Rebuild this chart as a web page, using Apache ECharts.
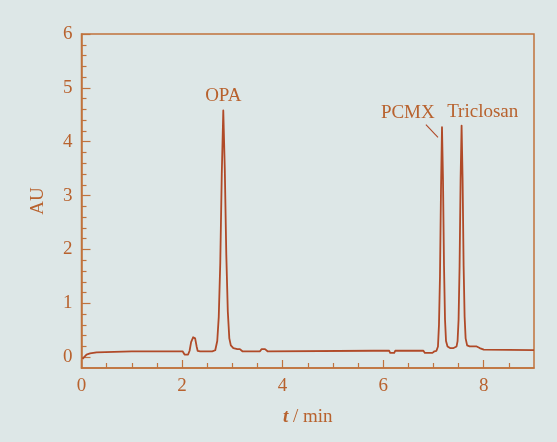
<!DOCTYPE html>
<html><head><meta charset="utf-8">
<script src="https://cdn.jsdelivr.net/npm/echarts@6/dist/echarts.min.js"></script>
<style>html,body{margin:0;padding:0;background:#dde7e7}#c{width:557px;height:442px}</style>
</head><body><div id="c"></div>
<script>
// chromatogram points [t (min), AU]
const trace = [
  [0.02,-0.03],[0.10,0.05],[0.17,0.07],[0.30,0.09],[0.33,0.11],[1.00,0.11],[2.01,0.11],
  [2.05,0.05],[2.08,0.02],[2.12,0.05],[2.15,0.12],[2.18,0.28],[2.22,0.37],[2.26,0.35],
  [2.29,0.20],[2.31,0.12],[2.36,0.11],[2.60,0.11],[2.66,0.13],[2.70,0.30],[2.73,0.75],
  [2.76,1.75],[2.79,3.40],[2.82,4.58],[2.85,3.50],[2.88,1.90],[2.91,0.85],[2.94,0.35],
  [2.97,0.22],[3.02,0.17],[3.10,0.15],[3.15,0.15],[3.20,0.11],[3.55,0.11],[3.58,0.15],
  [3.65,0.15],[3.70,0.11],[5.80,0.12],[5.82,0.10],[5.84,0.12],[6.12,0.12],[6.14,0.08],
  [6.22,0.08],[6.24,0.12],[6.80,0.12],[6.83,0.08],[6.98,0.08],[7.02,0.11],[7.06,0.12],
  [7.09,0.20],[7.11,0.60],[7.13,1.50],[7.15,3.10],[7.17,4.27],[7.19,3.30],[7.21,1.70],
  [7.23,0.70],[7.25,0.30],[7.28,0.20],[7.33,0.17],[7.40,0.17],[7.46,0.20],[7.48,0.30],
  [7.50,0.70],[7.52,1.70],[7.54,3.30],[7.56,4.30],[7.58,3.30],[7.60,1.70],[7.62,0.75],
  [7.64,0.35],[7.67,0.22],[7.72,0.20],[7.86,0.20],[7.92,0.17],[8.00,0.14],[9.00,0.13]
];
const peakLabels = [
  {name:'OPA', t:2.82, au:4.84},
  {name:'PCMX', t:6.49, au:4.53},
  {name:'Triclosan', t:7.98, au:4.56}
];
const arrowFrom = [6.85, 4.32];
const arrowTo = [7.09, 4.08];
const xMajorTicks = [0, 2, 4, 6, 8];
const xMinorTicks = [0.5, 1, 1.5, 2.5, 3, 3.5, 4.5, 5, 5.5, 6.5, 7, 7.5, 8.5];
const yMajorTicks = [0, 1, 2, 3, 4, 5, 6];
const yMinorTicks = [0.2,0.4,0.6,0.8,1.2,1.4,1.6,1.8,2.2,2.4,2.6,2.8,3.2,3.4,3.6,3.8,4.2,4.4,4.6,4.8,5.2,5.4,5.6,5.8];
const xTitle = 't / min';
const yTitle = 'AU';

const axisCol = '#c0733d';
const textCol = '#b8622e';
const lineCol = '#b04a28';
const font = 'Liberation Serif';
const fs = 19;

const chart = echarts.init(document.getElementById('c'));
chart.setOption({
  animation: false,
  backgroundColor: '#dde7e7',
  textStyle: {fontFamily: font},
  grid: {left: 81.5, right: 23, top: 34, bottom: 74, show: true, borderColor: axisCol, borderWidth: 1.5, backgroundColor: 'transparent'},
  xAxis: [
    {type: 'value', min: 0, max: 9, position: 'bottom',
     name: '{i|t} / min', nameLocation: 'middle', nameGap: 40,
     nameTextStyle: {color: textCol, fontSize: fs, fontFamily: font, rich: {i: {fontStyle: 'italic', fontWeight: 'bold', fontSize: fs, color: textCol, fontFamily: font}}},
     axisLine: {show: true, onZero: false, lineStyle: {color: axisCol, width: 1.5}},
     axisTick: {show: true, inside: true, length: 8, customValues: xMajorTicks, lineStyle: {color: axisCol, width: 1.2}},
     axisLabel: {show: true, customValues: xMajorTicks, color: textCol, fontSize: fs, fontFamily: font, margin: 9},
     splitLine: {show: false}},
    {type: 'value', min: 0, max: 9, position: 'bottom', offset: 0,
     axisLine: {show: false, onZero: false},
     axisTick: {show: true, inside: true, length: 5, customValues: xMinorTicks, lineStyle: {color: axisCol, width: 1.2}},
     axisLabel: {show: false}, splitLine: {show: false}}
  ],
  yAxis: [
    {type: 'value', min: -0.2, max: 6, position: 'left',
     name: yTitle, nameLocation: 'middle', nameGap: 34, nameRotate: 90,
     nameTextStyle: {color: textCol, fontSize: fs, fontFamily: font},
     axisLine: {show: true, onZero: false, lineStyle: {color: axisCol, width: 1.5}},
     axisTick: {show: true, inside: true, length: 9, customValues: yMajorTicks, lineStyle: {color: axisCol, width: 1.2}},
     axisLabel: {show: true, customValues: yMajorTicks, color: textCol, fontSize: fs, fontFamily: font, margin: 9},
     splitLine: {show: false}},
    {type: 'value', min: -0.2, max: 6, position: 'left', offset: 0,
     axisLine: {show: false, onZero: false},
     axisTick: {show: true, inside: true, length: 5, customValues: yMinorTicks, lineStyle: {color: axisCol, width: 1.2}},
     axisLabel: {show: false}, splitLine: {show: false}}
  ],
  series: [{
    type: 'line', xAxisIndex: 0, yAxisIndex: 0, data: trace, showSymbol: false,
    smooth: false,
    lineStyle: {color: lineCol, width: 1.8, join: 'round'},
    markPoint: {
      symbol: 'circle', symbolSize: 0, silent: true,
      label: {show: true, position: 'inside', formatter: '{b}', color: textCol, fontSize: fs, fontFamily: font},
      data: peakLabels.map(p => ({name: p.name, coord: [p.t, p.au]}))
    },
    markLine: {
      silent: true, symbol: ['none', 'arrow'], symbolSize: [0, 7],
      label: {show: false},
      lineStyle: {color: lineCol, width: 1.1, type: 'solid'},
      data: [[{coord: arrowFrom}, {coord: arrowTo}]]
    }
  }]
});
</script></body></html>
